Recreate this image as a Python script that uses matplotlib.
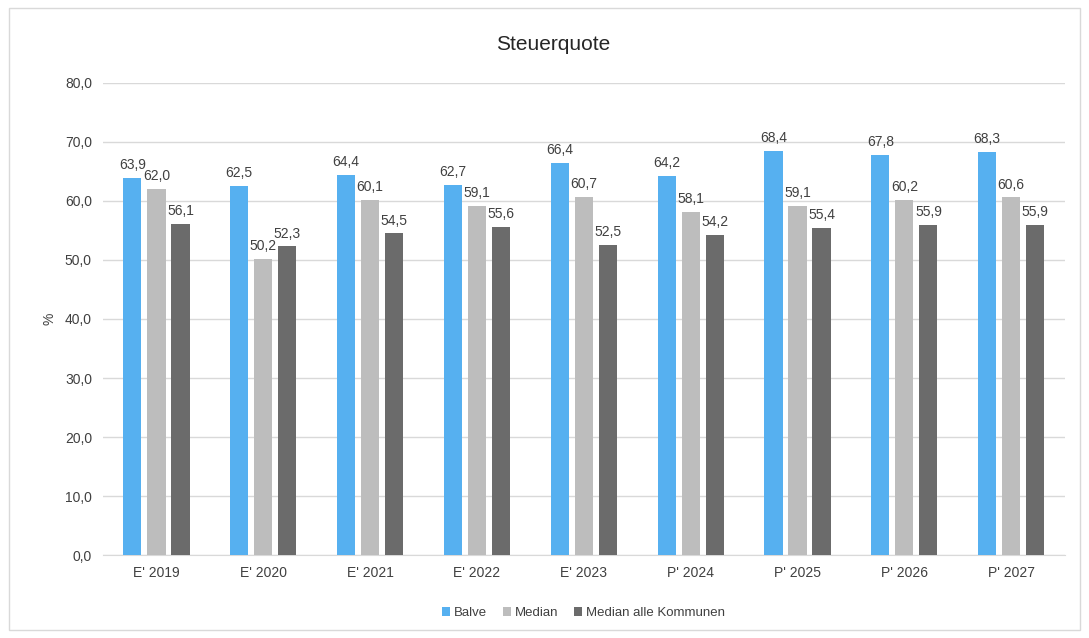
import matplotlib.pyplot as plt
import numpy as np
from matplotlib.patches import Rectangle

categories = ["E' 2019", "E' 2020", "E' 2021", "E' 2022", "E' 2023",
              "P' 2024", "P' 2025", "P' 2026", "P' 2027"]
balve = [63.9, 62.5, 64.4, 62.7, 66.4, 64.2, 68.4, 67.8, 68.3]
median = [62.0, 50.2, 60.1, 59.1, 60.7, 58.1, 59.1, 60.2, 60.6]
median_alle = [56.1, 52.3, 54.5, 55.6, 52.5, 54.2, 55.4, 55.9, 55.9]

series = [("Balve", balve, "#56B0F0"),
          ("Median", median, "#BDBDBD"),
          ("Median alle Kommunen", median_alle, "#6B6B6B")]

plt.rcParams['font.family'] = ['Liberation Sans', 'DejaVu Sans']

fig = plt.figure(figsize=(10.89, 6.38), dpi=100)
ax = fig.add_axes([0.0946, 0.130, 0.883, 0.740])

x = np.arange(len(categories))
width = 0.17
step = 0.225
for i, (name, vals, col) in enumerate(series):
    pos = x + (i - 1) * step
    ax.bar(pos, vals, width, color=col, label=name, zorder=3)
    for p, v in zip(pos, vals):
        ax.text(p, v + 1.0, ("%.1f" % v).replace(".", ","), ha="center", va="bottom",
                fontsize=10, color="#404040", zorder=4)

ax.set_xlim(-0.5, len(categories) - 0.5)
ax.set_ylim(0, 80)
ax.set_yticks(np.arange(0, 81, 10))
ax.set_yticklabels([("%.1f" % t).replace(".", ",") for t in np.arange(0, 81, 10)],
                   fontsize=10, color="#404040")
ax.set_xticks(x)
ax.set_xticklabels(categories, fontsize=10, color="#404040")
ax.tick_params(length=0, pad=8)
ax.grid(axis="y", color="#D9D9D9", linewidth=1, zorder=0)
for s in ["top", "right", "left"]:
    ax.spines[s].set_visible(False)
ax.spines["bottom"].set_color("#D9D9D9")
ax.set_ylabel("%", fontsize=10, color="#404040", labelpad=6)

fig.text(0.508, 0.93, "Steuerquote", ha="center", va="center", fontsize=15, color="#262626")

ax.legend(loc="upper center", bbox_to_anchor=(0.5, -0.085), ncol=3, frameon=False,
          fontsize=9.5, handlelength=0.6, handleheight=0.6, handletextpad=0.3,
          columnspacing=1.2, labelcolor="#404040")

fig.patches.append(Rectangle((0.008, 0.012), 0.984, 0.976, transform=fig.transFigure,
                             fill=False, edgecolor="#D9D9D9", linewidth=1))

fig.savefig("out.png", dpi=100)
